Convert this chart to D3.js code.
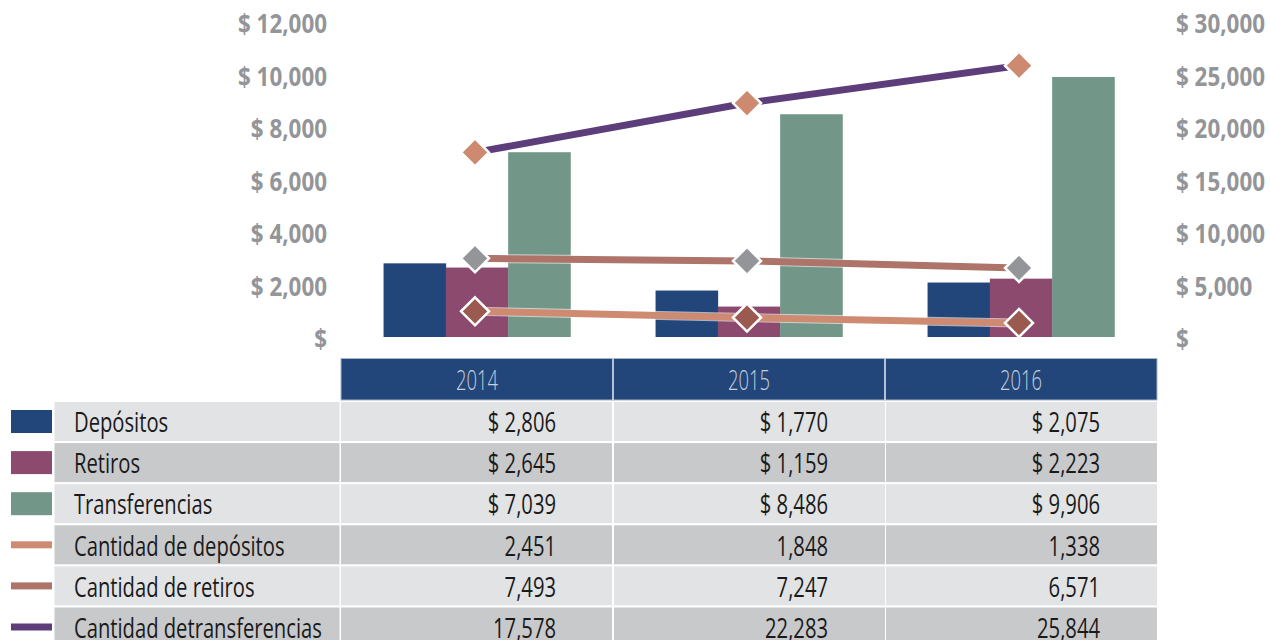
<!DOCTYPE html>
<html><head><meta charset="utf-8">
<script src="https://cdn.jsdelivr.net/npm/d3@7"></script>
<style>
html,body{margin:0;padding:0;background:#fff;}
svg{display:block;}
</style></head>
<body>
<svg id="chart" width="1270" height="640"></svg>
<script>
const years = ["2014","2015","2016"];
const barSeries = ["Depósitos","Retiros","Transferencias"];
const depositos = [2806,1770,2075];
const retiros = [2645,1159,2223];
const transferencias = [7039,8486,9906];
const lineSeries = ["Cantidad de depósitos","Cantidad de retiros","Cantidad detransferencias"];
const cantDepositos = [2451,1848,1338];
const cantRetiros = [7493,7247,6571];
const cantTransferencias = [17578,22283,25844];
const leftTicks = [0,2000,4000,6000,8000,10000,12000];
const rightTicks = [0,5000,10000,15000,20000,25000,30000];

const barColors = ["#22467a","#8c4a6f","#729688"];
const lineColors = ["#cf8b72","#ae7369","#5e3e7a"];
const markerColors = ["#9b5a4f","#939598","#cd8a70"];

const svg = d3.select("#chart");
const font = '"Open Sans","Noto Sans",sans-serif';

// measure helper to emulate a condensed face
function measure(str, size, weight){
  const t = svg.append("text").attr("font-family",font).attr("font-size",size)
    .attr("font-weight",weight).text(str);
  const w = t.node().getComputedTextLength();
  t.remove();
  return w;
}
const axisSize = 27, tableSize = 27, headSize = 27;
const axisSX = 89 / measure("$ 12,000", axisSize, "bold");
const tableSX = 248 / measure("Cantidad detransferencias", tableSize, "normal");
const headSX = 42 / measure("2014", headSize, "300");

const x0 = d3.scaleBand().domain(years).range([341,1157]).padding(0);
const x1 = d3.scaleBand().domain(barSeries).range([0,x0.bandwidth()]).paddingInner(0).paddingOuter(0.683);
const yL = d3.scaleLinear().domain([0,12000]).range([337,22]);
const yR = d3.scaleLinear().domain([0,30000]).range([337,22]);

const barData = [depositos,retiros,transferencias];
const lineData = [cantDepositos,cantRetiros,cantTransferencias];

// bars
barSeries.forEach((s,si)=>{
  svg.append("g").selectAll("rect").data(years).join("rect")
    .attr("x",d=>x0(d)+x1(s))
    .attr("width",x1.bandwidth()+0.3)
    .attr("y",(d,i)=>yL(barData[si][i]))
    .attr("height",(d,i)=>yL(0)-yL(barData[si][i]))
    .attr("fill",barColors[si]);
});

// axes
const fmt = d => d===0 ? "$" : "$ " + d3.format(",")(d);
const axL = svg.append("g").attr("transform","translate(327,2)")
  .call(d3.axisLeft(yL).tickValues(leftTicks).tickFormat(fmt).tickSize(0).tickPadding(0));
const axR = svg.append("g").attr("transform","translate(1176,2)")
  .call(d3.axisRight(yR).tickValues(rightTicks).tickFormat(fmt).tickSize(0).tickPadding(0));
[axL,axR].forEach(a=>{
  a.select(".domain").remove();
  a.selectAll("text").attr("font-family",font).attr("font-weight","bold")
    .attr("font-size",axisSize).attr("fill","#939598")
    .attr("x",0).attr("transform",`scale(${axisSX},1)`);
});

// lines
const cx = d => x0(d)+x0.bandwidth()/2 - 2;
lineSeries.forEach((s,si)=>{
  const pts = years.map((y,i)=>[cx(y), yR(lineData[si][i])]);
  const line = d3.line();
  svg.append("path").attr("d",line(pts)).attr("fill","none")
    .attr("stroke","#fff").attr("stroke-width",9).attr("stroke-opacity",0.6);
  svg.append("path").attr("d",line(pts)).attr("fill","none")
    .attr("stroke",lineColors[si]).attr("stroke-width",7);
});
lineSeries.forEach((s,si)=>{
  svg.append("g").selectAll("path").data(years).join("path")
    .attr("transform",(d,i)=>`translate(${cx(d)},${yR(lineData[si][i])})`)
    .attr("d","M0,-14L14,0L0,14L-14,0Z")
    .attr("fill",markerColors[si]).attr("stroke","#fff").attr("stroke-width",2.5);
});

// scaled text helper
function stext(g, x, y, str, size, weight, color, anchor, sx){
  return g.append("text")
    .attr("transform",`translate(${x},${y}) scale(${sx},1)`)
    .attr("dy","0.36em").attr("text-anchor",anchor)
    .attr("font-family",font).attr("font-size",size).attr("font-weight",weight)
    .attr("fill",color).text(str);
}

// data table
const headTop = 358.5, headH = 41.5, rowTop = 402, rowPitch = 41.1, rowH = 39;
svg.append("rect").attr("x",341).attr("y",headTop).attr("width",816).attr("height",headH)
  .attr("fill","#22467a").attr("stroke","#a7b3c7").attr("stroke-width",1);
years.forEach((y,i)=>{
  if(i>0) svg.append("line").attr("x1",x0(y)).attr("x2",x0(y)).attr("y1",headTop).attr("y2",headTop+headH)
    .attr("stroke","#e8ebf0").attr("stroke-width",1.5);
  stext(svg, x0(y)+x0.bandwidth()/2, headTop+headH/2+1, y, headSize, "300", "#c9cfdb", "middle", headSX);
});

const allNames = barSeries.concat(lineSeries);
const allValues = barData.concat(lineData);
const allColors = barColors.concat(lineColors);
const rowFills = ["#e2e3e5","#c8c9cb"];
allNames.forEach((name,ri)=>{
  const ty = rowTop + ri*rowPitch;
  const fill = rowFills[ri%2];
  svg.append("rect").attr("x",54.5).attr("y",ty).attr("width",285).attr("height",rowH).attr("fill",fill);
  years.forEach((y,ci)=>{
    svg.append("rect").attr("x",x0(y)+(ci===0?0:1)).attr("y",ty).attr("width",x0.bandwidth()-1).attr("height",rowH).attr("fill",fill);
    const v = allValues[ri][ci];
    stext(svg, x0(y)+x0.bandwidth()-57, ty+rowH/2+1,
      ri<3 ? "$ "+d3.format(",")(v) : d3.format(",")(v),
      tableSize, "normal", "#1a1a1a", "end", tableSX);
  });
  if(ri<3){
    svg.append("rect").attr("x",11).attr("y",ty+rowH/2-11.5).attr("width",41).attr("height",23).attr("fill",allColors[ri]);
  } else {
    svg.append("rect").attr("x",11).attr("y",ty+rowH/2-3.5).attr("width",41).attr("height",7).attr("fill",allColors[ri]);
  }
  stext(svg, 74, ty+rowH/2+1, name, tableSize, "normal", "#1a1a1a", "start", tableSX);
});
</script>
</body></html>
